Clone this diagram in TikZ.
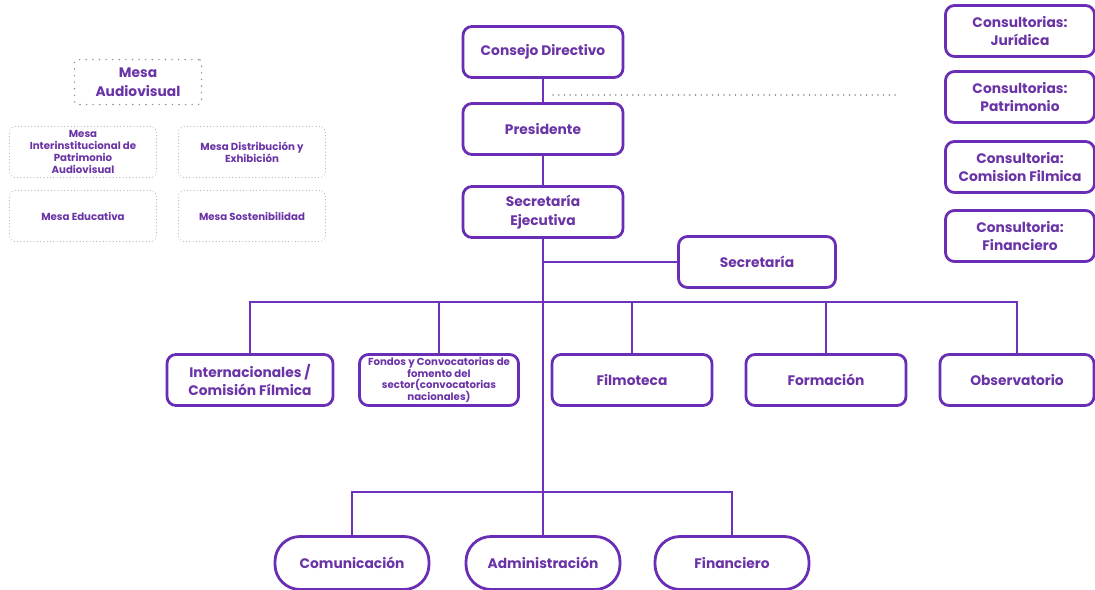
\documentclass[tikz,border=0pt]{standalone}
\usepackage{fontspec}
\setmainfont{Poppins}
\begin{document}
\begin{tikzpicture}[x=1pt,y=-1pt,
  font=\bfseries,
  box/.style={draw=boxc,line width=2.8pt,rounded corners=9pt,text=txtc,align=center,inner sep=0pt,
     minimum width=160pt,minimum height=51pt,font=\fontsize{13.8}{18.5}\bfseries\selectfont},
  pill/.style={box,rounded corners=25pt,minimum width=154pt,minimum height=53pt},
  small/.style={font=\fontsize{10.2}{11.6}\bfseries\selectfont},
  mesa/.style={draw=dotc,line width=1.1pt,dash pattern=on 0.1pt off 3.2pt,line cap=round,rounded corners=6pt,
     text=txtc,align=center,inner sep=0pt,minimum width=147pt,minimum height=51pt,font=\fontsize{10.2}{12}\bfseries\selectfont},
  conn/.style={draw=linec,line width=1.8pt},
  dotline/.style={draw=dotc2,line width=1.4pt,dash pattern=on 0.1pt off 5.6pt,line cap=round}
]
\definecolor{boxc}{HTML}{6A2DB5}
\definecolor{txtc}{HTML}{6A34A6}
\definecolor{linec}{HTML}{6E33BC}
\definecolor{dotc}{HTML}{B7AFC8}
\definecolor{dotc2}{HTML}{8F8A99}
\path[use as bounding box,fill=white] (0,0) rectangle (1095,589);

% main column
\node[box] (cd) at (543,52) {Consejo Directivo};
\node[box] (pr) at (543,129) {Presidente};
\node[box] (se) at (543,212) {Secretaría\\Ejecutiva};
\node[box,minimum width=157pt] (sec) at (757,262) {Secretaría};

% middle row
\node[box,minimum width=166pt] (int) at (250,380) {Internacionales /\\Comisión Fílmica};
\node[box,small,minimum width=159pt] (fon) at (439,380) {Fondos y Convocatorias de\\fomento del\\sector(convocatorias\\nacionales)};
\node[box] (fil) at (632,380) {Filmoteca};
\node[box] (for) at (826,380) {Formación};
\node[box,minimum width=154pt] (obs) at (1017,380) {Observatorio};

% bottom row
\node[pill] (com) at (352,563) {Comunicación};
\node[pill] (adm) at (543,563) {Administración};
\node[pill] (fin) at (732,563) {Financiero};

% consultorias
\node[box,minimum width=149pt,font=\fontsize{13.8}{17.5}\bfseries\selectfont] (c1) at (1020,31) {Consultorias:\\Jurídica};
\node[box,minimum width=149pt,font=\fontsize{13.8}{17.5}\bfseries\selectfont] (c2) at (1020,97) {Consultorias:\\Patrimonio};
\node[box,minimum width=149pt,font=\fontsize{13.8}{17.5}\bfseries\selectfont] (c3) at (1020,167) {Consultoria:\\Comision Filmica};
\node[box,minimum width=149pt,font=\fontsize{13.8}{17.5}\bfseries\selectfont] (c4) at (1020,236) {Consultoria:\\Financiero};

% mesas
\node[mesa,draw=dotc2,line width=1.5pt,dash pattern=on 0.1pt off 6.5pt,rounded corners=3pt,minimum width=127pt,minimum height=45pt,
      font=\fontsize{13.8}{18.5}\bfseries\selectfont] (ma) at (138,82) {Mesa\\Audiovisual};
\node[mesa] (m1) at (83,152) {Mesa\\Interinstitucional de\\Patrimonio\\Audiovisual};
\node[mesa] (m2) at (252,152) {Mesa Distribución y\\Exhibición};
\node[mesa] (m3) at (83,216) {Mesa Educativa};
\node[mesa] (m4) at (252,216) {Mesa Sostenibilidad};

% connectors
\coordinate (bus1) at (543,302);
\coordinate (bus2) at (543,492);
\coordinate (dotend) at (900,95);
\path[conn] (cd) -- (pr);
\path[conn] (pr) -- (se);
\path[conn] (se.south) -- (adm.north);
\path[conn] (sec.west) -- (sec.west -| se.south);
\path[conn] (int.north) -- (int.north |- bus1) -- (obs.north |- bus1) -- (obs.north);
\path[conn] (fon.north) -- (fon.north |- bus1);
\path[conn] (fil.north) -- (fil.north |- bus1);
\path[conn] (for.north) -- (for.north |- bus1);
\path[conn] (com.north) -- (com.north |- bus2) -- (fin.north |- bus2) -- (fin.north);
\path[dotline] ([xshift=10pt]dotend -| cd.south) -- (dotend);
\end{tikzpicture}
\end{document}
